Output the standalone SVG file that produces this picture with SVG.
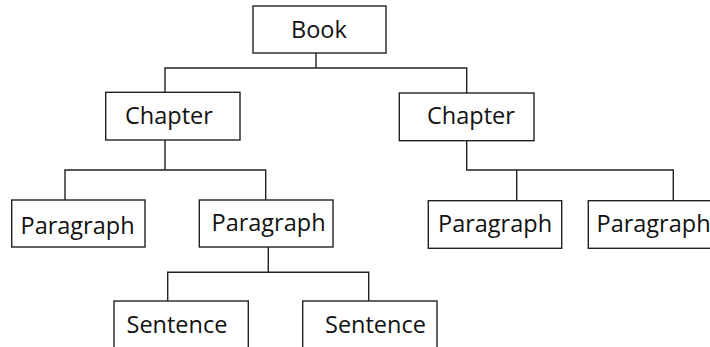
<svg xmlns="http://www.w3.org/2000/svg" width="710" height="347" viewBox="0 0 710 347">
<style>
.box{fill:#fff;stroke:#222;stroke-width:1.4}
.lbl{font-family:"Open Sans","Noto Sans",sans-serif;font-size:23.5px;fill:#111}
.con{fill:none;stroke:#222;stroke-width:1.4}
</style>
<rect width="710" height="347" fill="#fff"/>
<g id="connectors">
<path class="con" d="M316,53 V68 M165,92 V68 H466.7 V93"/>
<path class="con" d="M165,140 V170 M65,200 V170 H265.7 V200"/>
<path class="con" d="M466.7,141 V170 H673.3 V201 M516.7,170 V201"/>
<path class="con" d="M268.3,247 V272.3 M167.7,301 V272.3 H368.7 V301"/>
</g>
<g id="book"><rect class="box" x="253" y="6" width="133" height="47"/><text class="lbl" x="291" y="38">Book</text></g>
<g id="chapter1"><rect class="box" x="105.7" y="92.3" width="134.3" height="47.7"/><text class="lbl" x="125" y="124">Chapter</text></g>
<g id="chapter2"><rect class="box" x="399.3" y="93" width="134.7" height="47.7"/><text class="lbl" x="427" y="124">Chapter</text></g>
<g id="paragraph1"><rect class="box" x="11.7" y="200" width="133.3" height="47"/><text class="lbl" x="20.5" y="234">Paragraph</text></g>
<g id="paragraph2"><rect class="box" x="199.3" y="200" width="133.7" height="47"/><text class="lbl" x="211.5" y="231">Paragraph</text></g>
<g id="paragraph3"><rect class="box" x="428.3" y="200.7" width="133.4" height="47.6"/><text class="lbl" x="438" y="232">Paragraph</text></g>
<g id="paragraph4"><rect class="box" x="588.3" y="200.7" width="133.4" height="47.6"/><text class="lbl" x="596.5" y="232">Paragraph</text></g>
<g id="sentence1"><rect class="box" x="114" y="301" width="134.3" height="60"/><text class="lbl" x="126.5" y="333">Sentence</text></g>
<g id="sentence2"><rect class="box" x="302.7" y="301" width="134.3" height="60"/><text class="lbl" x="325" y="333">Sentence</text></g>
</svg>
